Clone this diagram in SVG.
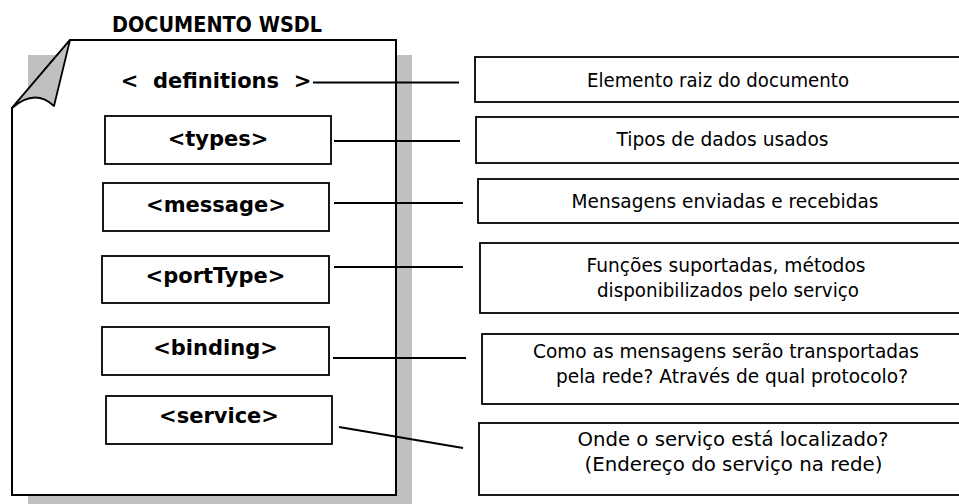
<svg xmlns="http://www.w3.org/2000/svg" width="959" height="504" viewBox="0 0 959 504">
<style>
.shadow{fill:#c0c0c0;stroke:none}
.page{fill:#ffffff;stroke:#000000;stroke-width:2;stroke-linejoin:miter}
.fold{fill:#c0c0c0;stroke:#000000;stroke-width:1.8;stroke-linejoin:round}
.box{fill:#ffffff;stroke:#000000;stroke-width:1.8}
.conn{fill:none;stroke:#000000;stroke-width:1.8}
.tag{font-family:"DejaVu Sans",Verdana,sans-serif;font-weight:bold;font-size:21px;fill:#000000;text-anchor:middle}
.desc{font-family:"DejaVu Sans",Tahoma,sans-serif;font-size:19.5px;fill:#000000;text-anchor:middle}
</style>
<rect width="959" height="504" fill="#ffffff"/>
<g id="document">
  <rect class="shadow" x="28" y="55" width="384" height="456"/>
  <path class="page" d="M70,40 L396,40 L396,495 L12,495 L12,108 Z"/>
  <path class="fold" d="M70,40 L12,108 Q35,88 54,106 Z"/>
  <text class="tag" x="217" y="32" textLength="210" lengthAdjust="spacingAndGlyphs">DOCUMENTO WSDL</text>
</g>
<g id="definitions">
  <text class="tag" x="216" y="88" xml:space="preserve">&lt;  definitions  &gt;</text>
</g>
<g id="types">
  <rect class="box" x="105" y="116" width="226" height="48"/>
  <text class="tag" x="218" y="146">&lt;types&gt;</text>
</g>
<g id="message">
  <rect class="box" x="103" y="183" width="226" height="48"/>
  <text class="tag" x="216" y="212">&lt;message&gt;</text>
</g>
<g id="portType">
  <rect class="box" x="102" y="256" width="227" height="47"/>
  <text class="tag" x="215.5" y="283">&lt;portType&gt;</text>
</g>
<g id="binding">
  <rect class="box" x="102" y="327" width="227" height="48"/>
  <text class="tag" x="215.5" y="355">&lt;binding&gt;</text>
</g>
<g id="service">
  <rect class="box" x="106" y="396" width="226" height="48"/>
  <text class="tag" x="219" y="423">&lt;service&gt;</text>
</g>
<g id="desc-definitions">
  <rect class="box" x="475" y="57" width="510" height="45"/>
  <text class="desc" x="718" y="87" textLength="262" lengthAdjust="spacingAndGlyphs">Elemento raiz do documento</text>
</g>
<g id="desc-types">
  <rect class="box" x="476" y="117" width="510" height="46"/>
  <text class="desc" x="722.5" y="146" textLength="212" lengthAdjust="spacingAndGlyphs">Tipos de dados usados</text>
</g>
<g id="desc-message">
  <rect class="box" x="478" y="179" width="510" height="44"/>
  <text class="desc" x="725" y="208" textLength="307" lengthAdjust="spacingAndGlyphs">Mensagens enviadas e recebidas</text>
</g>
<g id="desc-portType">
  <rect class="box" x="480" y="243" width="510" height="70"/>
  <text class="desc" x="726" y="272" textLength="279" lengthAdjust="spacingAndGlyphs">Funções suportadas, métodos</text>
  <text class="desc" x="728" y="297" textLength="262" lengthAdjust="spacingAndGlyphs">disponibilizados pelo serviço</text>
</g>
<g id="desc-binding">
  <rect class="box" x="482" y="334" width="510" height="70"/>
  <text class="desc" x="726" y="358" textLength="386" lengthAdjust="spacingAndGlyphs">Como as mensagens serão transportadas</text>
  <text class="desc" x="732" y="383" textLength="352" lengthAdjust="spacingAndGlyphs">pela rede? Através de qual protocolo?</text>
</g>
<g id="desc-service">
  <rect class="box" x="479" y="423" width="510" height="72"/>
  <text class="desc" x="733" y="446" textLength="311" lengthAdjust="spacingAndGlyphs">Onde o serviço está localizado?</text>
  <text class="desc" x="733.5" y="471" textLength="298" lengthAdjust="spacingAndGlyphs">(Endereço do serviço na rede)</text>
</g>
<g id="connectors">
  <line class="conn" x1="313" y1="82.5" x2="459" y2="82.5"/>
  <line class="conn" x1="334" y1="141" x2="460" y2="141"/>
  <line class="conn" x1="334" y1="203" x2="463" y2="203"/>
  <line class="conn" x1="334" y1="267" x2="463" y2="267"/>
  <line class="conn" x1="333" y1="358" x2="466" y2="358"/>
  <line class="conn" x1="339" y1="427" x2="463" y2="448"/>
</g>
</svg>
